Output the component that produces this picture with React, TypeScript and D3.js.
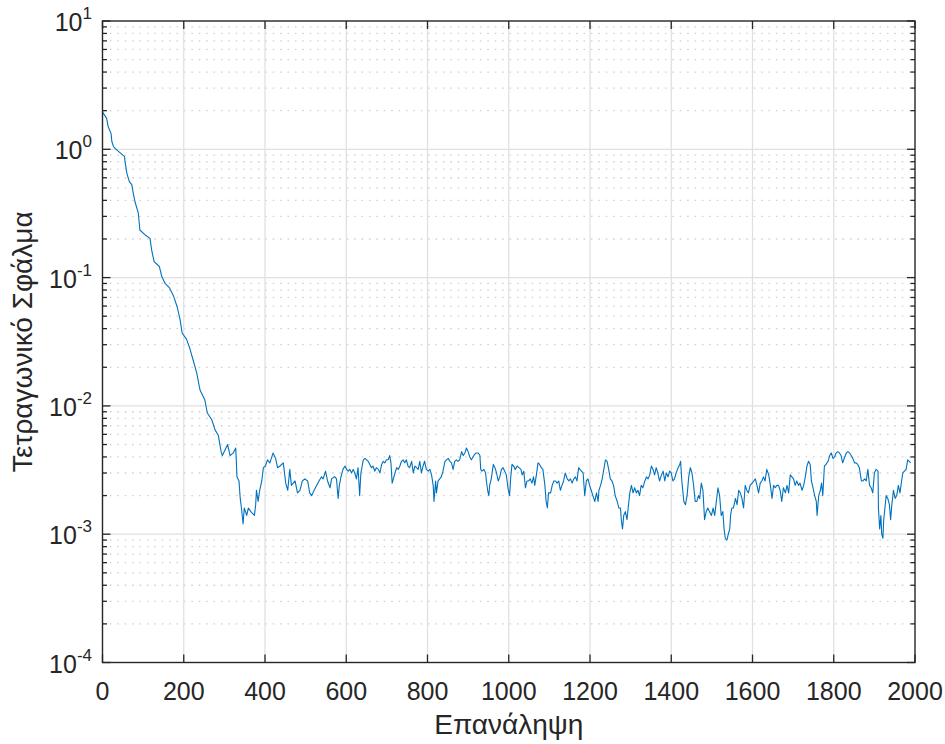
import React, { useEffect, useRef } from 'react';
import * as d3 from 'd3';

// x axis ticks (iterations) and y axis decades
const xTicks = [0, 200, 400, 600, 800, 1000, 1200, 1400, 1600, 1800, 2000];
const yDecades = [-4, -3, -2, -1, 0, 1];

// initial descent, 0..269
const descentIter = [
  0, 10, 14, 21, 23, 27, 35, 50, 54, 56,
  60, 66, 72, 76, 80, 88, 92, 105, 117, 121,
  127, 140, 146, 154, 164, 174, 184, 191, 196, 207,
  215, 223, 232, 240, 252, 258, 269,
];
const descentMse = [
  1.95, 1.75, 1.5, 1.33, 1.15, 1.05, 0.99, 0.9, 0.88, 0.78,
  0.65, 0.56, 0.53, 0.45, 0.39, 0.32, 0.235, 0.215, 0.202, 0.164,
  0.133, 0.122, 0.102, 0.09, 0.084, 0.073, 0.059, 0.047, 0.037, 0.033,
  0.028, 0.0228, 0.018, 0.0133, 0.0111, 0.0088, 0.0078,
];

// 277..570
const iterA = [
  277, 285, 292, 295, 301, 308, 314, 322, 328, 331,
  336, 339, 342, 346, 349, 355, 359, 365, 374, 377,
  379, 383, 387, 392, 396, 401, 406, 412, 420, 426,
  431, 437, 445, 451, 456, 461, 465, 474, 480, 486,
  492, 498, 505, 510, 515, 521, 527, 533, 539, 543,
  549, 554, 560, 564, 570,
];
const mseA = [
  0.0065, 0.0059, 0.0044, 0.0041, 0.0045, 0.005, 0.0041, 0.0043, 0.0047, 0.0028,
  0.0026, 0.0019, 0.0016, 0.0012, 0.0016, 0.0014, 0.0016, 0.0015, 0.0014, 0.0017,
  0.0022, 0.0018, 0.0022, 0.0026, 0.0033, 0.0034, 0.0038, 0.0036, 0.0043, 0.0039,
  0.0033, 0.0034, 0.0036, 0.0025, 0.0022, 0.0032, 0.0024, 0.0026, 0.0021, 0.0022,
  0.0026, 0.0027, 0.0026, 0.0021, 0.002, 0.0022, 0.0024, 0.0026, 0.0028, 0.0027,
  0.0031, 0.0026, 0.0023, 0.0027, 0.0028,
];

// 572..879
const iterB = [
  572, 576, 580, 583, 587, 592, 597, 601, 605, 609,
  613, 617, 621, 625, 629, 633, 636, 642, 646, 650,
  654, 658, 662, 666, 670, 674, 679, 683, 687, 691,
  695, 699, 703, 707, 710, 713, 716, 720, 724, 728,
  732, 736, 740, 744, 748, 752, 756, 761, 765, 769,
  773, 777, 781, 785, 789, 793, 797, 802, 806, 810,
  814, 816, 820, 822, 826, 830, 834, 838, 843, 847,
  851, 855, 859, 863, 867, 871, 875, 879,
];
const mseB = [
  0.0028, 0.0027, 0.0019, 0.0024, 0.0028, 0.0032, 0.0034, 0.0032, 0.0031, 0.0032,
  0.003, 0.0032, 0.003, 0.0027, 0.0033, 0.002, 0.003, 0.0038, 0.0039, 0.0038,
  0.0037, 0.0035, 0.0033, 0.0034, 0.0031, 0.0033, 0.0032, 0.003, 0.0035, 0.0037,
  0.0036, 0.0038, 0.0038, 0.0041, 0.0036, 0.0025, 0.0027, 0.003, 0.0033, 0.0032,
  0.0034, 0.0037, 0.0038, 0.0036, 0.0038, 0.0034, 0.0033, 0.0037, 0.003, 0.0034,
  0.0033, 0.0032, 0.0037, 0.003, 0.0034, 0.0037, 0.0032, 0.0031, 0.0032, 0.0029,
  0.0024, 0.0018, 0.0026, 0.0021, 0.0026, 0.0027, 0.0028, 0.0031, 0.0037, 0.0038,
  0.0039, 0.0037, 0.0036, 0.0032, 0.0037, 0.0038, 0.0037, 0.0038,
];

// 884..1175
const iterC = [
  884, 888, 892, 896, 900, 904, 908, 912, 916, 920,
  925, 929, 931, 934, 939, 943, 945, 948, 951, 953,
  957, 962, 966, 970, 974, 978, 982, 986, 990, 994,
  998, 1002, 1005, 1008, 1012, 1016, 1021, 1025, 1030, 1033,
  1037, 1041, 1045, 1049, 1053, 1057, 1061, 1064, 1068, 1072,
  1076, 1080, 1084, 1089, 1092, 1095, 1098, 1103, 1107, 1111,
  1115, 1119, 1123, 1127, 1131, 1135, 1139, 1144, 1148, 1152,
  1156, 1160, 1164, 1168, 1172, 1175,
];
const mseC = [
  0.0044, 0.0041, 0.0043, 0.0047, 0.0044, 0.004, 0.0038, 0.004, 0.0042, 0.0043,
  0.0043, 0.0041, 0.0032, 0.0031, 0.0032, 0.003, 0.0026, 0.0022, 0.002, 0.0024,
  0.0027, 0.0035, 0.0033, 0.003, 0.0026, 0.0028, 0.0032, 0.0033, 0.0031, 0.0029,
  0.0023, 0.002, 0.0028, 0.0035, 0.0034, 0.0032, 0.0034, 0.0033, 0.0032, 0.0029,
  0.0031, 0.0023, 0.0026, 0.0026, 0.0027, 0.0025, 0.0028, 0.0024, 0.0029, 0.0036,
  0.0035, 0.0033, 0.0032, 0.0024, 0.0018, 0.0016, 0.0021, 0.0021, 0.0024, 0.0026,
  0.0026, 0.0025, 0.0026, 0.0022, 0.0024, 0.0026, 0.003, 0.0027, 0.0026, 0.0027,
  0.0025, 0.0027, 0.0028, 0.0026, 0.0033, 0.0032,
];

// 1179..1470
const iterD = [
  1179, 1183, 1187, 1191, 1195, 1199, 1203, 1207, 1212, 1216,
  1220, 1222, 1226, 1230, 1234, 1238, 1242, 1246, 1250, 1254,
  1258, 1262, 1267, 1271, 1275, 1277, 1280, 1283, 1287, 1291,
  1294, 1298, 1302, 1306, 1310, 1314, 1318, 1322, 1326, 1330,
  1335, 1339, 1343, 1347, 1351, 1355, 1359, 1363, 1367, 1371,
  1376, 1380, 1384, 1388, 1392, 1396, 1400, 1404, 1408, 1412,
  1417, 1421, 1423, 1426, 1431, 1435, 1439, 1443, 1447, 1451,
  1455, 1459, 1463, 1467, 1470,
];
const mseD = [
  0.0031, 0.003, 0.002, 0.0026, 0.0027, 0.0024, 0.0022, 0.002, 0.0018, 0.0021,
  0.0018, 0.0022, 0.0024, 0.0027, 0.0032, 0.0038, 0.0037, 0.0032, 0.0027, 0.0026,
  0.0024, 0.002, 0.0018, 0.0016, 0.0016, 0.0013, 0.0011, 0.0014, 0.0015, 0.0013,
  0.0016, 0.0021, 0.0024, 0.0021, 0.0023, 0.0021, 0.0022, 0.002, 0.0024, 0.0023,
  0.0026, 0.0028, 0.0027, 0.0029, 0.0034, 0.0032, 0.0029, 0.0033, 0.003, 0.0026,
  0.0029, 0.0031, 0.0026, 0.003, 0.0028, 0.0031, 0.003, 0.0026, 0.0027, 0.003,
  0.0033, 0.0035, 0.0037, 0.0026, 0.0018, 0.0017, 0.002, 0.0028, 0.0033, 0.003,
  0.0024, 0.0018, 0.0018, 0.002, 0.0019,
];

// 1474..1759
const iterE = [
  1474, 1478, 1482, 1486, 1490, 1494, 1499, 1503, 1507, 1511,
  1515, 1519, 1523, 1527, 1530, 1533, 1537, 1540, 1544, 1546,
  1549, 1553, 1558, 1562, 1566, 1570, 1574, 1578, 1582, 1586,
  1590, 1594, 1599, 1603, 1607, 1611, 1615, 1619, 1623, 1627,
  1631, 1635, 1640, 1644, 1648, 1652, 1656, 1660, 1664, 1668,
  1672, 1676, 1681, 1685, 1689, 1693, 1697, 1701, 1705, 1709,
  1713, 1717, 1722, 1726, 1730, 1734, 1738, 1742, 1745, 1749,
  1753, 1757, 1759,
];
const mseE = [
  0.0025, 0.0022, 0.0013, 0.0015, 0.0016, 0.0015, 0.0014, 0.0016, 0.0014, 0.0018,
  0.0023, 0.002, 0.0014, 0.0015, 0.0011, 0.00093, 0.0009, 0.00099, 0.0011, 0.0014,
  0.0016, 0.0016, 0.0019, 0.0017, 0.0022, 0.0021, 0.0019, 0.0016, 0.0024, 0.0022,
  0.0021, 0.0024, 0.0025, 0.0026, 0.0027, 0.0024, 0.0021, 0.0025, 0.0026, 0.0028,
  0.0026, 0.0032, 0.0029, 0.0024, 0.0019, 0.0024, 0.0023, 0.0024, 0.0024, 0.0022,
  0.0018, 0.0023, 0.0021, 0.0024, 0.0021, 0.0029, 0.0028, 0.0027, 0.0024, 0.0026,
  0.0024, 0.0025, 0.0022, 0.0024, 0.0028, 0.0034, 0.0037, 0.0035, 0.0026, 0.0023,
  0.002, 0.0018, 0.0014,
];

// 1763..1989
const iterF = [
  1763, 1767, 1770, 1773, 1777, 1781, 1786, 1790, 1794, 1798,
  1802, 1806, 1810, 1814, 1818, 1822, 1827, 1831, 1835, 1839,
  1843, 1847, 1851, 1855, 1859, 1863, 1868, 1872, 1876, 1880,
  1884, 1888, 1892, 1896, 1900, 1904, 1909, 1910, 1913, 1916,
  1918, 1921, 1923, 1926, 1929, 1933, 1937, 1940, 1943, 1947,
  1951, 1955, 1959, 1963, 1967, 1970, 1974, 1978, 1982, 1986,
  1989,
];
const mseF = [
  0.002, 0.0022, 0.0025, 0.002, 0.0034, 0.0035, 0.0037, 0.0041, 0.0043, 0.0039,
  0.004, 0.0043, 0.0044, 0.0043, 0.0041, 0.0036, 0.004, 0.0043, 0.0044, 0.0043,
  0.0041, 0.0039, 0.0036, 0.0036, 0.0035, 0.0033, 0.0026, 0.0026, 0.0027, 0.0026,
  0.0032, 0.0024, 0.0023, 0.0021, 0.003, 0.0032, 0.0031, 0.0016, 0.0011, 0.0014,
  0.001, 0.00093, 0.0013, 0.0016, 0.002, 0.0019, 0.0017, 0.0013, 0.0017, 0.0022,
  0.0019, 0.002, 0.0024, 0.0021, 0.0026, 0.003, 0.0031, 0.0032, 0.0038, 0.0037,
  0.0036,
];

const iterations = [...descentIter, ...iterA, ...iterB, ...iterC, ...iterD, ...iterE, ...iterF];
const mse = [...descentMse, ...mseA, ...mseB, ...mseC, ...mseD, ...mseE, ...mseF];

const W = 945;
const H = 744;
const margin = { top: 21, right: 30, bottom: 81.5, left: 102.5 };
const ink = '#262626';
const font = "'Liberation Sans', Arial, Helvetica, sans-serif";

function App() {
  const ref = useRef<SVGSVGElement>(null);

  useEffect(() => {
    drawChart();
  }, []);

  function drawChart() {
    const svg = d3.select(ref.current);
    svg.selectAll('*').remove();

    const x = d3.scaleLinear().domain([0, 2000]).range([margin.left, W - margin.right]);
    const y = d3.scaleLog().domain([1e-4, 1e1]).range([H - margin.bottom, margin.top]);
    const [x0, x1] = x.range();
    const [y0, y1] = y.range();

    svg.append('rect').attr('width', W).attr('height', H).attr('fill', '#fff');

    // minor y grid (dotted)
    const minor: number[] = [];
    yDecades.slice(0, -1).forEach((k) => {
      for (let m = 2; m <= 9; m++) minor.push(m * Math.pow(10, k));
    });
    svg.append('g')
      .selectAll('line')
      .data(minor)
      .enter()
      .append('line')
      .attr('x1', x0).attr('x2', x1)
      .attr('y1', (d) => y(d)).attr('y2', (d) => y(d))
      .attr('stroke', '#d2d2d2')
      .attr('stroke-width', 1.3)
      .attr('stroke-dasharray', '1.6 5.8');

    // major grid
    svg.append('g')
      .selectAll('line')
      .data(yDecades.slice(1, -1))
      .enter()
      .append('line')
      .attr('x1', x0).attr('x2', x1)
      .attr('y1', (k) => y(Math.pow(10, k))).attr('y2', (k) => y(Math.pow(10, k)))
      .attr('stroke', '#e0e0e0')
      .attr('stroke-width', 1.3);
    svg.append('g')
      .selectAll('line')
      .data(xTicks.slice(1, -1))
      .enter()
      .append('line')
      .attr('x1', (d) => x(d)).attr('x2', (d) => x(d))
      .attr('y1', y0).attr('y2', y1)
      .attr('stroke', '#e0e0e0')
      .attr('stroke-width', 1.3);

    // the series
    const line = d3.line<number>()
      .x((_, i) => x(iterations[i]))
      .y((d) => y(d));
    svg.append('path')
      .datum(mse)
      .attr('d', line)
      .attr('fill', 'none')
      .attr('stroke', '#0072BD')
      .attr('stroke-width', 1.1)
      .attr('stroke-linejoin', 'round');

    // ticks on all four sides, pointing inward
    const ticks = svg.append('g').attr('stroke', ink).attr('stroke-width', 1.3);
    xTicks.forEach((t) => {
      ticks.append('line').attr('x1', x(t)).attr('x2', x(t)).attr('y1', y0).attr('y2', y0 - 8);
      ticks.append('line').attr('x1', x(t)).attr('x2', x(t)).attr('y1', y1).attr('y2', y1 + 8);
    });
    yDecades.forEach((k) => {
      const v = y(Math.pow(10, k));
      ticks.append('line').attr('x1', x0).attr('x2', x0 + 8).attr('y1', v).attr('y2', v);
      ticks.append('line').attr('x1', x1).attr('x2', x1 - 8).attr('y1', v).attr('y2', v);
    });
    minor.forEach((m) => {
      const v = y(m);
      ticks.append('line').attr('x1', x0).attr('x2', x0 + 4.5).attr('y1', v).attr('y2', v);
      ticks.append('line').attr('x1', x1).attr('x2', x1 - 4.5).attr('y1', v).attr('y2', v);
    });

    // box
    svg.append('rect')
      .attr('x', x0).attr('y', y1)
      .attr('width', x1 - x0).attr('height', y0 - y1)
      .attr('fill', 'none')
      .attr('stroke', ink)
      .attr('stroke-width', 1.4);

    // tick labels
    svg.append('g')
      .selectAll('text')
      .data(xTicks)
      .enter()
      .append('text')
      .attr('x', (d) => x(d))
      .attr('y', y0 + 37)
      .attr('text-anchor', 'middle')
      .attr('font-family', font)
      .attr('font-size', 25)
      .attr('fill', ink)
      .text((d) => String(d));

    const yl = svg.append('g')
      .selectAll('text')
      .data(yDecades)
      .enter()
      .append('text')
      .attr('x', 92)
      .attr('y', (k) => y(Math.pow(10, k)) + 10)
      .attr('text-anchor', 'end')
      .attr('font-family', font)
      .attr('fill', ink);
    yl.append('tspan').attr('font-size', 25).text('10');
    yl.append('tspan').attr('font-size', 17).attr('dy', -12).text((k) => String(k));

    // axis titles
    svg.append('text')
      .attr('x', (x0 + x1) / 2)
      .attr('y', 734)
      .attr('text-anchor', 'middle')
      .attr('font-family', font)
      .attr('font-size', 28)
      .attr('fill', ink)
      .text('Επανάληψη');
    svg.append('text')
      .attr('transform', `translate(32, ${(y0 + y1) / 2}) rotate(-90)`)
      .attr('text-anchor', 'middle')
      .attr('font-family', font)
      .attr('font-size', 28)
      .attr('fill', ink)
      .text('Τετραγωνικό Σφάλμα');
  }

  return (
    <svg
      ref={ref}
      width={W}
      height={H}
      style={{ position: 'absolute', left: 0, top: 0, display: 'block' }}
    />
  );
}

export default App;
